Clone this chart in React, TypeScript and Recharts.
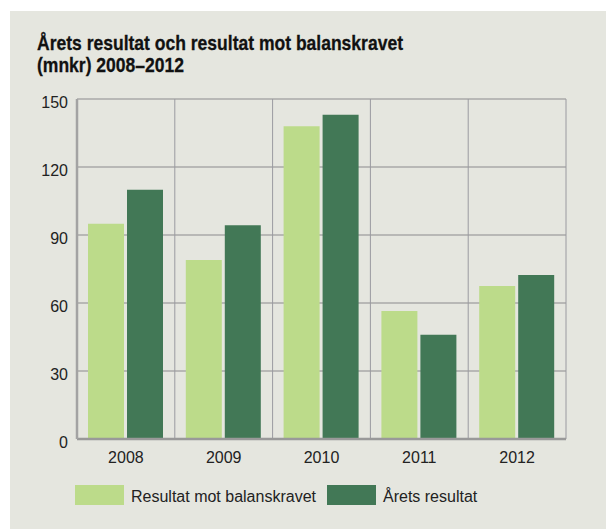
import React from "react";
import { BarChart, Bar, XAxis, YAxis, CartesianGrid } from "recharts";

const years = ["2008", "2009", "2010", "2011", "2012"];
const resultatMotBalanskravet = [95, 79, 138, 56.5, 67.5];
const aretsResultat = [110, 94.3, 143, 46, 72.3];
const yTicks = [0, 30, 60, 90, 120, 150];

const seriesNames = ["Resultat mot balanskravet", "Årets resultat"];
const colors = ["#bcdb8a", "#427856"];

const data = years.map((y, i) => ({
  year: y,
  a: resultatMotBalanskravet[i],
  b: aretsResultat[i],
}));

const FONT = "'Liberation Sans', Arial, sans-serif";

const YTick = (props: any) => {
  const { x, y, payload } = props;
  return (
    <text x={x} y={y} dy={9} textAnchor="end" fontSize={16} fill="#222" fontFamily={FONT}>
      {payload.value}
    </text>
  );
};

const XTick = (props: any) => {
  const { x, y, payload } = props;
  return (
    <text x={x} y={y} dy={22} textAnchor="middle" fontSize={16} fill="#222" fontFamily={FONT}>
      {payload.value}
    </text>
  );
};

const LegendBox = () => (
  <div
    style={{
      position: "absolute",
      left: 75,
      top: 485,
      display: "flex",
      alignItems: "center",
      fontFamily: FONT,
      fontSize: 16,
      color: "#222",
      whiteSpace: "nowrap",
    }}
  >
    {seriesNames.map((n, i) => (
      <div key={n} style={{ display: "flex", alignItems: "center", marginRight: 11 }}>
        <div style={{ width: 49, height: 20, background: colors[i], marginRight: 7 }} />
        <span style={{ position: "relative", top: 2 }}>{n}</span>
      </div>
    ))}
  </div>
);

export default function App() {
  return (
    <div style={{ position: "absolute", left: 0, top: 0, width: 606, height: 529, background: "#fff", overflow: "hidden" }}>
      <div style={{ position: "absolute", left: 10, top: 11, width: 596, height: 518, background: "#e5e6df" }} />
      <div
        style={{
          position: "absolute",
          left: 37,
          top: 32,
          fontFamily: "'Liberation Sans', Arial, sans-serif",
          fontWeight: "bold",
          fontSize: 21,
          lineHeight: "21.5px",
          color: "#111",
          whiteSpace: "nowrap",
          transform: "scaleX(0.834)",
          transformOrigin: "left top",
          WebkitTextStroke: "0.3px #111",
        }}
      >
        Årets resultat och resultat mot balanskravet
        <br />
        (mnkr) 2008–2012
      </div>
      <div style={{ position: "absolute", left: 0, top: 0 }}>
        <BarChart
          width={606}
          height={529}
          data={data}
          margin={{ top: 99, right: 40, left: 17, bottom: 60 }}
          barSize={36}
          barGap={3}
        >
          <CartesianGrid vertical={false} stroke="#a9a9a9" strokeWidth={1.5} />
          <CartesianGrid
            horizontal={false}
            stroke="#9a9aa0"
            strokeWidth={1}
            verticalCoordinatesGenerator={({ offset }: any) =>
              years.map((_, i) => offset.left + ((i + 1) * offset.width) / years.length)
            }
          />
          <XAxis
            dataKey="year"
            tick={<XTick />}
            tickLine={false}
            tickSize={0}
            height={30}
            axisLine={{ stroke: "#999", strokeWidth: 2.5 }}
          />
          <XAxis
            xAxisId="top"
            orientation="top"
            dataKey="year"
            tick={false}
            tickLine={false}
            height={0}
            axisLine={{ stroke: "#a3a3a3", strokeWidth: 2.5 }}
          />
          <YAxis
            domain={[0, 150]}
            ticks={yTicks}
            tick={<YTick />}
            tickLine={false}
            tickSize={0}
            tickMargin={9}
            width={60}
            axisLine={{ stroke: "#a3a3a3", strokeWidth: 2.5 }}
          />
          <YAxis
            yAxisId="right"
            orientation="right"
            domain={[0, 150]}
            tick={false}
            tickLine={false}
            width={0}
            axisLine={{ stroke: "#a3a3a3", strokeWidth: 2.5 }}
          />
          <Bar dataKey="a" name={seriesNames[0]} fill={colors[0]} isAnimationActive={false} />
          <Bar dataKey="b" name={seriesNames[1]} fill={colors[1]} isAnimationActive={false} />
        </BarChart>
      </div>
      <LegendBox />
    </div>
  );
}
